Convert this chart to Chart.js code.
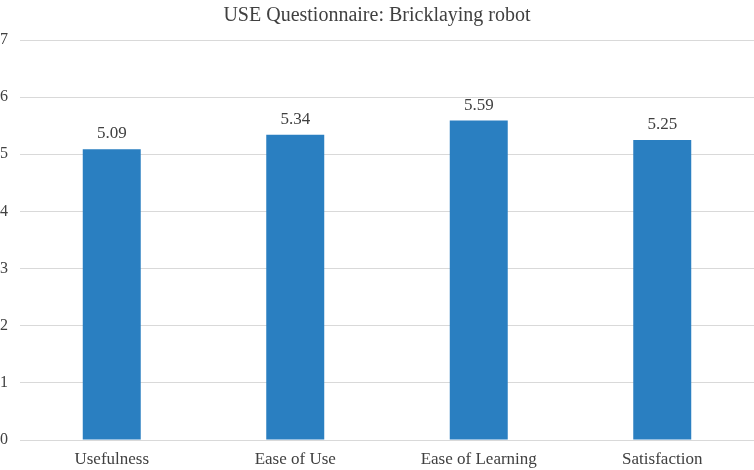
<!DOCTYPE html>
<html>
<head>
<meta charset="utf-8">
<script src="https://cdn.jsdelivr.net/npm/chart.js@4.4.0/dist/chart.umd.min.js"></script>
<style>
  html, body { margin: 0; padding: 0; background: #fff; }
  #wrap { width: 754px; height: 470px; }
</style>
</head>
<body>
<div id="wrap"><canvas id="chart"></canvas></div>
<script>
const categories = ['Usefulness', 'Ease of Use', 'Ease of Learning', 'Satisfaction'];
const scores = [5.09, 5.34, 5.59, 5.25];
const yTicks = [0, 1, 2, 3, 4, 5, 6, 7];

// draws the value labels above each bar
const valueLabels = {
    id: 'valueLabels',
    afterDatasetsDraw(chart) {
        const ctx = chart.ctx;
        const meta = chart.getDatasetMeta(0);
        ctx.save();
        ctx.font = '17px "Liberation Serif", serif';
        ctx.fillStyle = '#404040';
        ctx.textAlign = 'center';
        ctx.textBaseline = 'bottom';
        meta.data.forEach((bar, i) => {
            ctx.fillText(scores[i].toFixed(2), bar.x, bar.y - 7);
        });
        ctx.restore();
    }
};

new Chart(document.getElementById('chart'), {
    type: 'bar',
    data: {
        labels: categories,
        datasets: [{
            data: scores,
            backgroundColor: '#2A7FC1',
            categoryPercentage: 1,
            barPercentage: 0.316
        }]
    },
    options: {
        responsive: true,
        maintainAspectRatio: false,
        animation: false,
        layout: { padding: { left: 0, right: 0, top: 4, bottom: 0 } },
        plugins: {
            legend: { display: false },
            tooltip: { enabled: false },
            title: {
                display: true,
                text: 'USE Questionnaire: Bricklaying robot',
                color: '#404040',
                font: { family: '"Liberation Serif", serif', size: 20, weight: 'normal' },
                padding: { top: 0, bottom: 12 }
            }
        },
        scales: {
            x: {
                grid: { display: false, drawTicks: false },
                border: { display: false },
                afterFit(scale) { scale.height = 30; },
                ticks: {
                    color: '#404040',
                    font: { family: '"Liberation Serif", serif', size: 17 },
                    padding: 9
                }
            },
            y: {
                min: 0,
                max: 7,
                afterBuildTicks(axis) { axis.ticks = yTicks.map(v => ({ value: v })); },
                afterFit(scale) { scale.width = 20; },
                grid: { color: '#d9d9d9', drawTicks: false },
                border: { display: false },
                ticks: {
                    color: '#404040',
                    font: { family: '"Liberation Serif", serif', size: 16 },
                    padding: 12
                }
            }
        }
    },
    plugins: [valueLabels]
});
</script>
</body>
</html>
